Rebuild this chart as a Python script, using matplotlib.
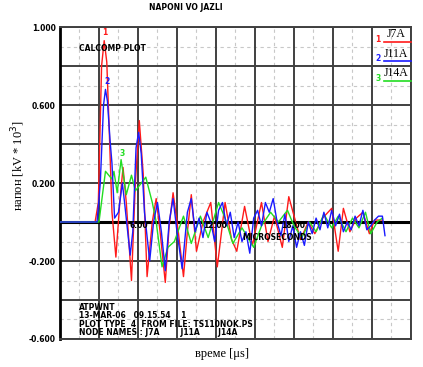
import numpy as np
import matplotlib.pyplot as plt

# data (time in microseconds, voltage in kV*10^3)
red_t = [0, 2.7, 2.95, 3.2, 3.4, 3.6, 3.8, 4.0, 4.3, 4.6, 4.85, 5.1, 5.5, 5.8, 6.1, 6.4, 6.7, 7.1,
         7.4, 7.7, 8.1, 8.4, 8.7, 9.1, 9.5, 9.8, 10.1, 10.5, 11.0, 11.6, 12.1, 12.7, 13.2, 13.6,
         14.2, 14.8, 15.5, 16.0, 16.5, 17.1, 17.6, 18.5, 19.1, 19.6, 20.2, 20.9, 21.4, 21.8,
         22.3, 22.8, 23.3, 23.8, 24.2, 24.8]
red_v = [0, 0, 0.1, 0.80, 0.93, 0.82, 0.45, 0.05, -0.18, 0.10, 0.28, 0.10, -0.30, 0.20, 0.52, 0.25,
         -0.28, 0.0, 0.12, -0.05, -0.31, -0.02, 0.15, -0.05, -0.28, -0.05, 0.14, -0.15, 0.0, 0.10,
         -0.23, 0.10, -0.09, -0.15, 0.08, -0.12, 0.10, -0.10, 0.03, -0.13, 0.13, -0.09, 0.0, -0.06,
         0.02, 0.07, -0.15, 0.07, -0.05, 0.02, 0.05, -0.06, 0.01, 0.01]

blue_t = [0, 2.85, 3.1, 3.35, 3.5, 3.65, 3.85, 4.0, 4.2, 4.5, 4.8, 5.0, 5.4, 5.6, 5.85, 6.05, 6.25,
          6.5, 6.9, 7.2, 7.5, 7.8, 8.1, 8.4, 8.7, 9.0, 9.4, 9.8, 10.1, 10.4, 10.7, 11.0, 11.3,
          11.6, 11.9, 12.2, 12.5, 12.8, 13.1, 13.4, 13.7, 14.0, 14.3, 14.6, 14.9, 15.2, 15.5,
          15.8, 16.1, 16.4, 16.7, 17.0, 17.3, 17.6, 17.9, 18.2, 18.5, 18.8, 19.1, 19.4, 19.7,
          20.0, 20.3, 20.6, 20.9, 21.2, 21.5, 21.8, 22.1, 22.4, 22.7, 23.0, 23.3, 23.6, 23.9,
          24.2, 24.5, 24.8, 25.0]
blue_v = [0, 0, 0.2, 0.60, 0.68, 0.62, 0.42, 0.30, 0.02, 0.05, 0.20, 0.08, -0.17, -0.05, 0.38, 0.46,
          0.35, 0.05, -0.20, 0.0, 0.10, -0.05, -0.25, 0.0, 0.12, -0.05, -0.24, 0.05, 0.12, -0.05,
          0.02, -0.08, 0.05, 0.0, -0.10, 0.06, 0.10, -0.02, 0.05, -0.08, 0.0, -0.10, -0.05, -0.16,
          0.02, 0.06, -0.02, 0.10, 0.05, 0.12, 0.0, -0.07, 0.04, -0.10, -0.02, -0.13, -0.05, -0.12,
          0.0, -0.06, 0.02, -0.04, 0.05, -0.03, 0.06, -0.02, 0.04, -0.05, 0.0, -0.04, 0.03, -0.02,
          0.06, -0.04, -0.02, 0.01, 0.03, 0.03, -0.07]

green_t = [0, 3.0, 3.5, 4.0, 4.15, 4.4, 4.7, 5.1, 5.5, 5.8, 6.6, 7.1, 7.4, 7.85, 8.3, 8.8,
           9.5, 10.1, 10.8, 11.4, 12.2, 12.7, 13.3, 14.0, 14.9, 15.5, 16.2, 16.8, 17.5, 18.0,
           18.6, 19.2, 19.7, 20.3, 20.9, 21.4, 22.0, 22.5, 23.0, 23.5, 23.9, 24.4, 24.8]
green_v = [0, 0, 0.26, 0.22, 0.26, 0.15, 0.32, 0.14, 0.24, 0.16, 0.23, 0.10, 0.0, -0.23, -0.13, -0.10,
           0.03, -0.11, 0.03, -0.08, 0.10, 0.02, -0.11, -0.03, -0.13, -0.02, 0.05, 0.0, 0.06, -0.02,
           -0.08, 0.0, -0.05, 0.04, -0.03, 0.03, -0.05, 0.02, -0.03, 0.05, -0.06, 0.0, 0.02]

names = ['J7A', 'J11A', 'J14A']
colors = ['#ff1a1a', '#1a1aff', '#22dd22']

x_major = np.arange(0, 28, 3)
y_major = np.arange(-0.6, 1.01, 0.2)
y_labels = ['-0.600', '', '-0.200', '', '0.200', '', '0.600', '', '1.000']

mono = 'Liberation Sans Narrow'
serif = 'Liberation Serif'

fig = plt.figure(figsize=(4.23, 3.67), dpi=100)
ax = fig.add_axes([0.1418, 0.0763, 0.8298, 0.8501])

# grid: dashed minor lines halfway, solid major lines
for x in x_major[:-1] + 1.5:
    ax.axvline(x, color='#c8c8c8', lw=0.8, ls=(0, (3, 3)), zorder=0)
for y in y_major[:-1] + 0.1:
    ax.axhline(y, color='#c8c8c8', lw=0.8, ls=(0, (3, 3)), zorder=0)
for x in x_major:
    ax.axvline(x, color='#404040', lw=1.4, zorder=1)
for y in y_major:
    ax.axhline(y, color='#404040', lw=1.4, zorder=1)
ax.axhline(0, color='black', lw=2.2, zorder=2)

ax.plot(red_t, red_v, color=colors[0], lw=1.0, zorder=3)
ax.plot(green_t, green_v, color=colors[2], lw=1.0, zorder=4)
ax.plot(blue_t, blue_v, color=colors[1], lw=1.0, zorder=5)

ax.set_xlim(0, 27)
ax.set_ylim(-0.6, 1.0)
ax.set_xticks([])
ax.set_yticks(y_major)
ax.set_yticklabels(y_labels, fontsize=5.5, family=mono, fontweight='bold')
ax.tick_params(axis='y', length=0, pad=3)
for s in ['top', 'right', 'bottom']:
    ax.spines[s].set_color('#404040')
    ax.spines[s].set_linewidth(1.4)
ax.spines['left'].set_linewidth(2)
ax.spines['left'].set_color('black')

# labels on the zero line
small = dict(fontsize=5.5, family=mono, fontweight='bold', zorder=6)
for x, xl in zip([6, 12, 18], [6.1, 11.9, 17.9]):
    ax.text(xl, -0.02, '%.2f' % x, ha='center', va='center', **small)
ax.text(16.7, -0.08, 'MICROSECONDS', ha='center', va='center', **small)
ax.text(1.45, 0.89, 'CALCOMP PLOT', ha='left', va='center', **small)

# curve numbers
ax.text(3.45, 0.97, '1', color=colors[0], ha='center', va='center', **small)
ax.text(3.6, 0.72, '2', color=colors[1], ha='center', va='center', **small)
ax.text(4.75, 0.35, '3', color=colors[2], ha='center', va='center', **small)

# legend box, upper right
for i, (n, c) in enumerate(zip(names, colors)):
    ly = 0.952 - i * 0.062
    ax.text(0.906, ly + 0.008, str(i + 1), color=c, transform=ax.transAxes,
            ha='center', va='center', **small)
    ax.text(0.957, ly + 0.024, n, transform=ax.transAxes, ha='center', va='center',
            fontsize=8.5, family=serif, zorder=6)
    ax.plot([0.923, 1.0], [ly, ly], color=c, lw=1.2,
            transform=ax.transAxes, zorder=6, clip_on=False)

# info block
info = ['ATPWNT',
        '13-MAR-06   09.15.54    1',
        'PLOT TYPE  4  FROM FILE: TS110NOK.PS',
        'NODE NAMES : J7A        J11A       J14A']
for i, line in enumerate(info):
    ax.text(1.45, -0.44 - i * 0.042, line, ha='left', va='center', **small)

fig.text(186 / 423, 1 - 7 / 367, 'NAPONI VO JAZLI', ha='center', va='center',
         fontsize=5.5, family=mono, fontweight='bold')
fig.text(18 / 423, 1 - 166 / 367, 'напон [kV * 10$^3$]', rotation=90, ha='center',
         va='center', fontsize=9, family=serif)
fig.text(222 / 423, 1 - 354 / 367, 'време [μs]', ha='center', va='center',
         fontsize=9, family=serif)

fig.savefig('out.png', dpi=100)
